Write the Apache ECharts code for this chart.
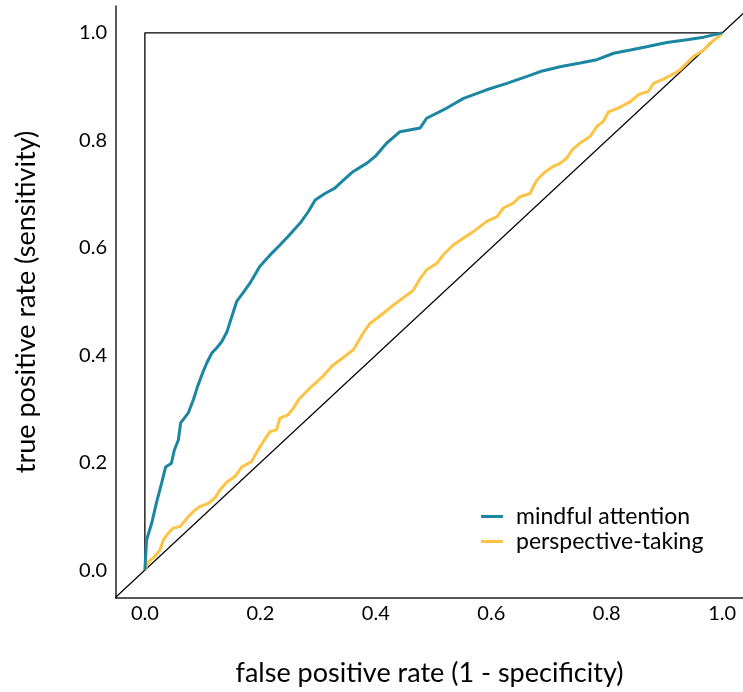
<!DOCTYPE html>
<html>
<head>
<meta charset="utf-8">
<script src="https://cdn.jsdelivr.net/npm/echarts@6/dist/echarts.min.js"></script>
<style>html,body{margin:0;padding:0;background:#fff}#c{width:743px;height:692px}</style>
</head>
<body>
<div id="c"></div>
<script>
const seriesNames = ['mindful attention', 'perspective-taking'];
const tickValues = [0, 0.2, 0.4, 0.6, 0.8, 1.0];
const mindfulFPR = [0,0.003,0.012,0.020,0.029,0.036,0.046,0.051,0.058,0.062,0.075,0.084,0.091,0.100,0.107,0.116,0.124,0.133,0.142,0.147,0.159,0.170,0.182,0.199,0.220,0.234,0.248,0.269,0.283,0.295,0.312,0.329,0.344,0.361,0.384,0.399,0.419,0.442,0.477,0.488,0.523,0.552,0.592,0.627,0.662,0.685,0.719,0.754,0.783,0.812,0.841,0.869,0.904,0.939,0.968,1];
const mindfulTPR = [0,0.056,0.088,0.125,0.162,0.192,0.199,0.223,0.242,0.274,0.292,0.317,0.341,0.367,0.385,0.404,0.413,0.425,0.443,0.460,0.500,0.516,0.534,0.565,0.590,0.605,0.621,0.646,0.667,0.689,0.701,0.711,0.726,0.742,0.757,0.770,0.795,0.816,0.823,0.841,0.860,0.878,0.894,0.906,0.919,0.928,0.937,0.944,0.950,0.962,0.968,0.974,0.982,0.987,0.992,1];
const perspFPR = [0,0.006,0.017,0.026,0.032,0.040,0.049,0.061,0.075,0.084,0.095,0.110,0.121,0.130,0.142,0.156,0.168,0.185,0.194,0.205,0.217,0.228,0.234,0.248,0.257,0.266,0.286,0.307,0.324,0.338,0.361,0.378,0.390,0.413,0.430,0.454,0.465,0.477,0.488,0.506,0.517,0.534,0.552,0.569,0.592,0.610,0.621,0.638,0.650,0.667,0.673,0.679,0.693,0.705,0.719,0.731,0.740,0.754,0.771,0.783,0.794,0.803,0.820,0.841,0.855,0.872,0.881,0.898,0.913,0.927,0.939,0.950,0.968,0.979,0.997,1];
const perspTPR = [0,0.015,0.025,0.037,0.056,0.068,0.078,0.081,0.099,0.109,0.118,0.124,0.134,0.149,0.164,0.174,0.192,0.202,0.220,0.239,0.258,0.261,0.283,0.289,0.301,0.317,0.339,0.359,0.380,0.391,0.410,0.441,0.459,0.478,0.493,0.512,0.521,0.543,0.559,0.571,0.587,0.605,0.618,0.630,0.649,0.658,0.674,0.683,0.695,0.701,0.714,0.726,0.741,0.750,0.757,0.767,0.782,0.795,0.807,0.826,0.835,0.853,0.860,0.872,0.885,0.891,0.906,0.914,0.922,0.931,0.944,0.956,0.968,0.981,0.996,1];
const perfectFPR = [0, 0, 1];
const perfectTPR = [0, 1, 1];
const chanceFPR = [-0.1, 1.1];
const chanceTPR = [-0.1, 1.1];

const zip = (a, b) => a.map((v, i) => [v, b[i]]);
const FONT = 'Lato';
const chart = echarts.init(document.getElementById('c'));
chart.setOption({
  animation: false,
  grid: { left: 116, right: 0, top: 6, bottom: 94, containLabel: false },
  xAxis: {
    type: 'value', min: -0.05, max: 1.036,
    name: 'false positive rate (1 - specificity)', nameLocation: 'middle', nameGap: 62,
    nameTextStyle: { fontFamily: FONT, fontSize: 27, color: '#000' },
    axisLine: { show: true, onZero: false, lineStyle: { color: '#222', width: 1.5 } },
    axisTick: { show: false },
    splitLine: { show: false },
    axisLabel: { customValues: tickValues, formatter: v => v.toFixed(1), fontFamily: FONT, fontSize: 20, color: '#000', margin: 6 }
  },
  yAxis: {
    type: 'value', min: -0.052, max: 1.05,
    name: 'true positive rate (sensitivity)', nameLocation: 'middle', nameGap: 76,
    nameTextStyle: { fontFamily: FONT, fontSize: 27, color: '#000' },
    axisLine: { show: true, onZero: false, lineStyle: { color: '#222', width: 1.5 } },
    axisTick: { show: false },
    splitLine: { show: false },
    axisLabel: { customValues: tickValues, formatter: v => v.toFixed(1), fontFamily: FONT, fontSize: 20, color: '#000', margin: 9 }
  },
  legend: {
    data: seriesNames, orient: 'vertical', left: 476, top: 500, icon: 'rect',
    itemWidth: 22, itemHeight: 3, itemGap: 2,
    textStyle: { fontFamily: FONT, fontSize: 23, lineHeight: 23, color: '#000', padding: [0,0,0,8] }
  },
  series: [
    { type: 'line', data: zip(chanceFPR, chanceTPR), showSymbol: false, silent: true,
      lineStyle: { color: '#000', width: 1.3 }, z: 1 },
    { type: 'line', data: zip(perfectFPR, perfectTPR), showSymbol: false, silent: true,
      lineStyle: { color: '#000', width: 1.3 }, z: 1 },
    { name: seriesNames[0], type: 'line', data: zip(mindfulFPR, mindfulTPR), showSymbol: false,
      lineStyle: { color: '#1a86a2', width: 3 }, itemStyle: { color: '#1a86a2' }, z: 3 },
    { name: seriesNames[1], type: 'line', data: zip(perspFPR, perspTPR), showSymbol: false,
      lineStyle: { color: '#fcc344', width: 3 }, itemStyle: { color: '#fcc344' }, z: 2 }
  ]
});
</script>
</body>
</html>
